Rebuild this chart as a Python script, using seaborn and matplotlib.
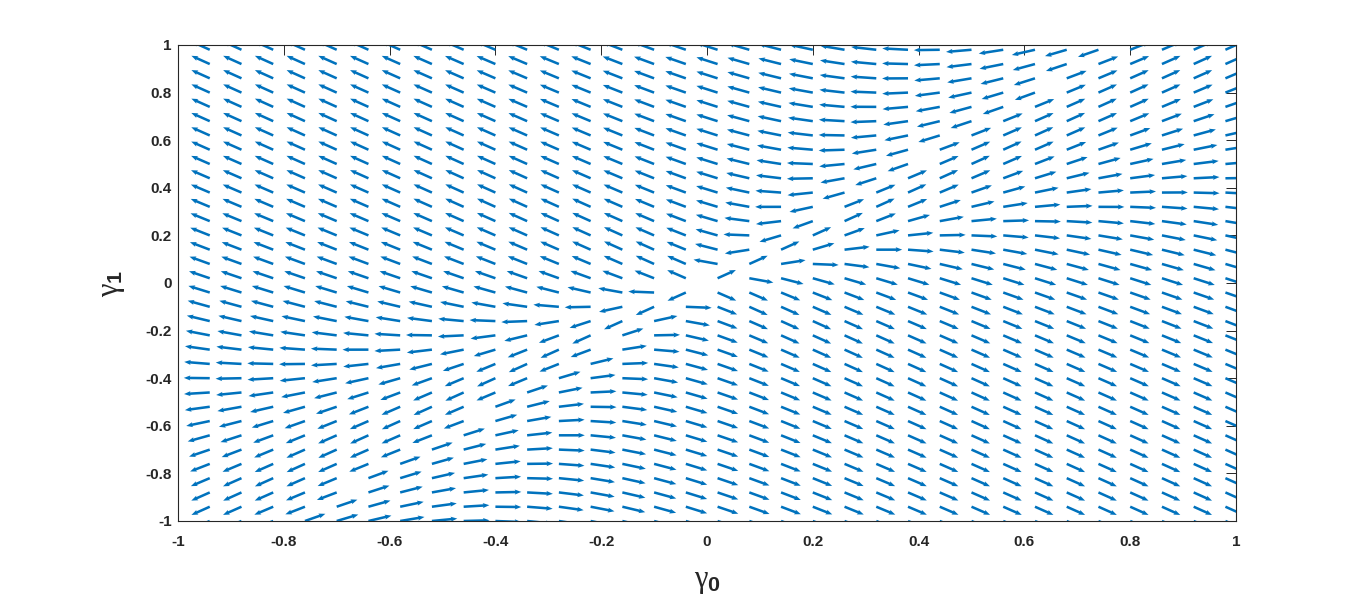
import numpy as np
import matplotlib
matplotlib.use("Agg")
import matplotlib.pyplot as plt
import seaborn as sns

# ---- data -------------------------------------------------------------
# grid points of the quiver (gamma0 along x, gamma1 along y)
gamma0 = [-1.00, -0.94, -0.88, -0.82, -0.76, -0.70, -0.64, -0.58, -0.52, -0.46,
          -0.40, -0.34, -0.28, -0.22, -0.16, -0.10, -0.04, 0.02, 0.08, 0.14,
          0.20, 0.26, 0.32, 0.38, 0.44, 0.50, 0.56, 0.62, 0.68, 0.74,
          0.80, 0.86, 0.92, 0.98]
gamma1 = [-1.00, -0.94, -0.88, -0.82, -0.76, -0.70, -0.64, -0.58, -0.52, -0.46,
          -0.40, -0.34, -0.28, -0.22, -0.16, -0.10, -0.04, 0.02, 0.08, 0.14,
          0.20, 0.26, 0.32, 0.38, 0.44, 0.50, 0.56, 0.62, 0.68, 0.74,
          0.80, 0.86, 0.92, 0.98]
# vector-field model
ridge_slope = 1.28     # line of fixed points gamma1 = 1.28 * gamma0
anisotropy = 6.5       # weight of the (gamma1-gamma0)^2 term
arrow_length = 0.049   # normalised arrow length (data units)
tick_values = [-1, -0.8, -0.6, -0.4, -0.2, 0, 0.2, 0.4, 0.6, 0.8, 1]
tick_labels = ["-1", "-0.8", "-0.6", "-0.4", "-0.2", "0", "0.2", "0.4", "0.6", "0.8", "1"]

# ---- field -------------------------------------------------------------
G0, G1 = np.meshgrid(np.array(gamma0), np.array(gamma1))
h = ridge_slope * G0 - G1
sp = (G0 + G1) ** 2
sm = anisotropy * (G1 - G0) ** 2
U = h * (sp + sm)
V = h * (sp - sm)
mag = np.hypot(U, V)
mag[mag == 0] = 1.0
U = arrow_length * U / mag
V = arrow_length * V / mag

# ---- plot --------------------------------------------------------------
sns.set_style("white")
plt.rcParams["axes.unicode_minus"] = False
plt.rcParams["mathtext.fontset"] = "custom"
plt.rcParams["mathtext.rm"] = "Liberation Serif"
plt.rcParams["mathtext.it"] = "Liberation Serif"
plt.rcParams["mathtext.bf"] = "Liberation Sans:bold"

fig = plt.figure(figsize=(13.66, 6.0), dpi=100)
ax = fig.add_axes([178 / 1366, 1 - 521 / 600, 1058 / 1366, 476 / 600])

ax.quiver(G0, G1, U, V, angles="xy", scale_units="xy", scale=1,
          color="#0072BD", width=0.0024, headwidth=2.0, headlength=2.6,
          headaxislength=2.3, zorder=2)

ax.set_xlim(-1, 1)
ax.set_ylim(-1, 1)
ax.set_xticks(tick_values)
ax.set_xticklabels(tick_labels)
ax.set_yticks(tick_values)
ax.set_yticklabels(tick_labels)
for lab in ax.get_xticklabels() + ax.get_yticklabels():
    lab.set_fontfamily("Liberation Sans")
    lab.set_fontweight("bold")
    lab.set_fontsize(11)
    lab.set_color("#262626")
ax.tick_params(axis="x", direction="in", top=True, length=7, width=0.7,
               pad=10, colors="#262626")
ax.tick_params(axis="y", direction="in", right=True, length=7, width=0.7,
               pad=4.5, colors="#262626")
for s in ax.spines.values():
    s.set_visible(True)
    s.set_linewidth(0.8)
    s.set_color("#262626")

ax.set_xlabel(r"$\mathrm{\gamma}_{\mathbf{0}}$", fontsize=22, color="#262626")
ax.set_ylabel(r"$\mathrm{\gamma}_{\mathbf{1}}$", fontsize=22, color="#262626")
ax.xaxis.set_label_coords(0.5, -0.128)
ax.xaxis.label.set_va("center")
ax.yaxis.set_label_coords(-0.062, 0.5)
ax.yaxis.label.set_va("center")

fig.savefig("out.png", dpi=100)
